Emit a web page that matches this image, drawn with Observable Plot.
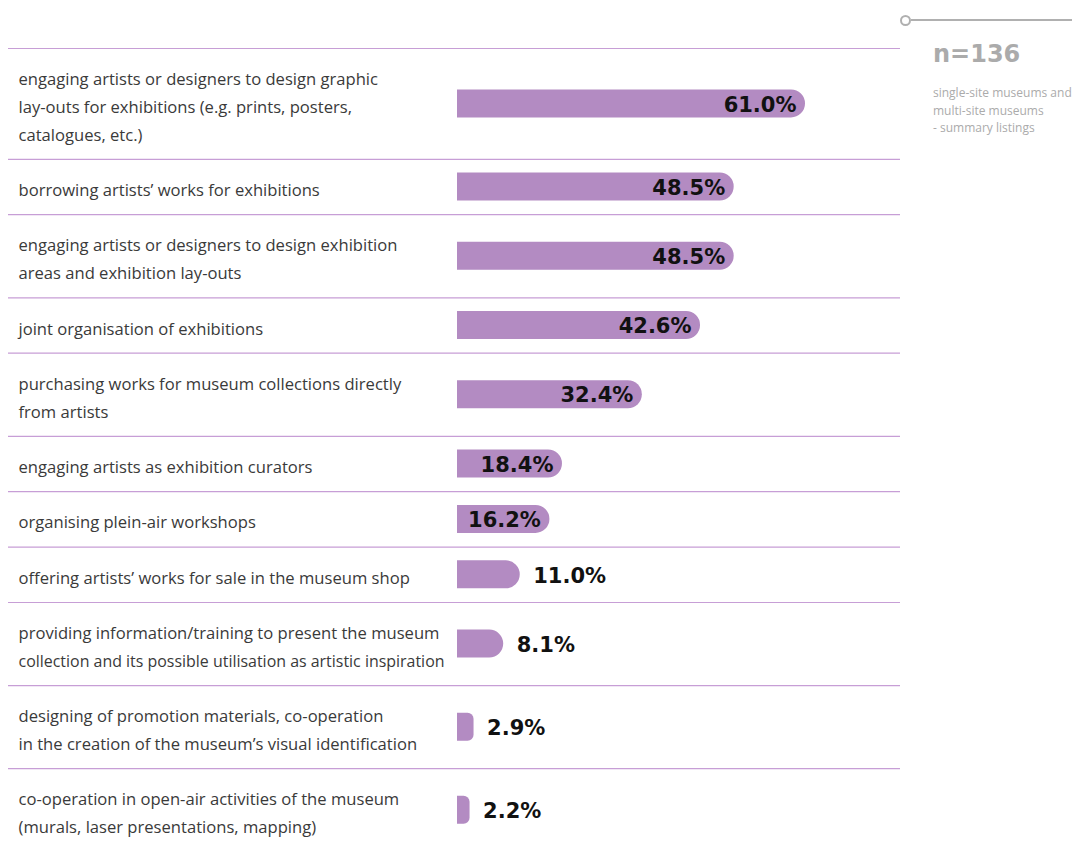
<!DOCTYPE html>
<html>
<head>
<meta charset="utf-8">
<script src="https://cdn.jsdelivr.net/npm/d3@7"></script>
<script src="https://cdn.jsdelivr.net/npm/@observablehq/plot@0.6"></script>
<style>
  html, body { margin: 0; padding: 0; background: #fff; }
  #wrap { position: relative; width: 1072px; height: 845px; overflow: hidden; font-family: "Open Sans", sans-serif; }
  #note { position: absolute; left: 933px; top: 38px; color: #ababab; }
  #note .n { font-family: "DejaVu Sans", sans-serif; font-size: 24px; font-weight: 700; line-height: 32px; }
  #note .d { font-size: 12px; line-height: 17.5px; margin-top: 14px; }
  #pin { position: absolute; left: 900px; top: 15px; width: 172px; height: 12px; }
  #pin .c { position: absolute; left: 0; top: 0px; width: 7px; height: 7px; border: 2px solid #b0b0b0; border-radius: 50%; background: #fff; }
  #pin .l { position: absolute; left: 11px; top: 3.5px; right: 0; height: 2.5px; background: #b0b0b0; }
</style>
</head>
<body>
<div id="wrap">
  <div id="chart"></div>
  <div id="pin"><div class="l"></div><div class="c"></div></div>
  <div id="note">
    <div class="n">n=136</div>
    <div class="d">single-site museums and<br>multi-site museums<br>- summary listings</div>
  </div>
</div>
<script>
const categories = [
  "engaging artists or designers to design graphic\nlay-outs for exhibitions (e.g. prints, posters,\ncatalogues, etc.)",
  "borrowing artists’ works for exhibitions",
  "engaging artists or designers to design exhibition\nareas and exhibition lay-outs",
  "joint organisation of exhibitions",
  "purchasing works for museum collections directly\nfrom artists",
  "engaging artists as exhibition curators",
  "organising plein-air workshops",
  "offering artists’ works for sale in the museum shop",
  "providing information/training to present the museum\ncollection and its possible utilisation as artistic inspiration",
  "designing of promotion materials, co-operation\nin the creation of the museum’s visual identification",
  "co-operation in open-air activities of the museum\n(murals, laser presentations, mapping)"
];
const values = [61.0, 48.5, 48.5, 42.6, 32.4, 18.4, 16.2, 11.0, 8.1, 2.9, 2.2];

// Build rows: each row's height (in line units) = number of text lines + 1
let acc = 0;
const rows = categories.map((c, i) => {
  const lines = c.split("\n").length;
  const r = {label: c, value: values[i], y1: acc, y2: acc + lines + 1};
  r.mid = (r.y1 + r.y2) / 2;
  acc = r.y2;
  return r;
});
const totalUnits = acc;
const unitPx = 27.7;
const barHalf = 14 / unitPx;

const valueFont = "'DejaVu Sans', sans-serif";
const barOpts = {x1: 0, x2: "value", y1: d => d.mid - barHalf, y2: d => d.mid + barHalf, fill: "#b38bc2"};

const chart = Plot.plot({
  width: 1072,
  height: 845,
  marginLeft: 8,
  marginRight: 172,
  marginTop: 0,
  marginBottom: 0,
  x: {domain: [0, 61], range: [457, 805], axis: null},
  y: {domain: [0, totalUnits], range: [48, 48 + totalUnits * unitPx], axis: null},
  style: {fontFamily: "'Open Sans', sans-serif", background: "#fff"},
  marks: [
    Plot.ruleY(rows, {y: "y1", stroke: "#c79ed6", strokeWidth: 1.2}),
    Plot.rect(rows.filter(d => d.value >= 5), {...barOpts, rx2: 14}),
    Plot.rect(rows.filter(d => d.value < 5), {...barOpts, rx2: 6}),
    Plot.text(rows, {text: "label", y: "mid", frameAnchor: "left", dx: 10, textAnchor: "start", lineAnchor: "middle", lineHeight: 1.7, fontSize: 16.6, fill: "#3a3a3a"}),
    Plot.text(rows.filter(d => d.value >= 15), {x: "value", y: "mid", text: d => d.value.toFixed(1) + "%", textAnchor: "end", dx: -9, dy: 1, fontSize: 21, fontWeight: 700, fontFamily: valueFont, fill: "#111"}),
    Plot.text(rows.filter(d => d.value < 15), {x: "value", y: "mid", text: d => d.value.toFixed(1) + "%", textAnchor: "start", dx: 13, dy: 1, fontSize: 21, fontWeight: 700, fontFamily: valueFont, fill: "#111"})
  ]
});
document.getElementById("chart").appendChild(chart);

// Fit overly long label lines into the space left of the bars
chart.querySelectorAll("g[aria-label='text'] text").forEach(t => {
  const spans = t.querySelectorAll("tspan");
  const items = spans.length ? Array.from(spans) : [t];
  items.forEach(s => {
    const len = s.getComputedTextLength();
    if (len > 428 && len < 600) {
      s.setAttribute("textLength", 426);
      s.setAttribute("lengthAdjust", "spacingAndGlyphs");
    }
  });
});
</script>
</body>
</html>
